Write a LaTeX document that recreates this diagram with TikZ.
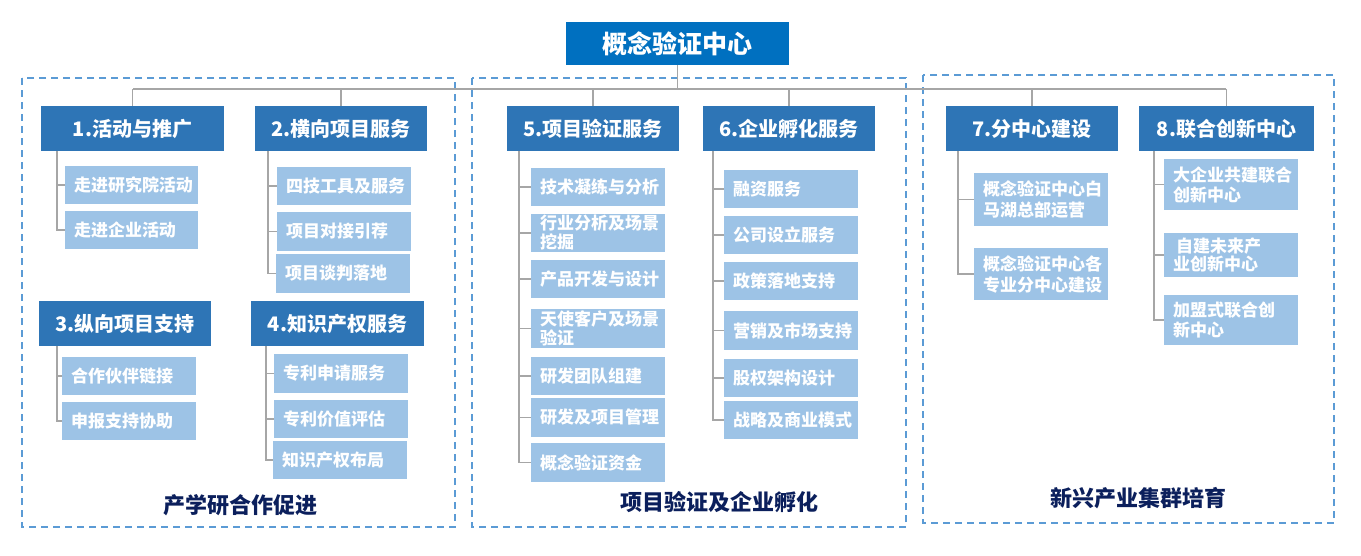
\documentclass[tikz,border=0pt]{standalone}
\usepackage{fontspec}
\setmainfont{Noto Sans CJK SC}
\definecolor{topblue}{HTML}{0070C0}
\definecolor{midblue}{HTML}{2E75B6}
\definecolor{lightblue}{HTML}{9DC3E6}
\definecolor{dashblue}{HTML}{5B9BD5}
\definecolor{linegray}{HTML}{A6A6A6}
\definecolor{navy}{HTML}{0B1F5C}
\newcommand\mybox[7]{\node[#2, minimum width={#5-#3}, minimum height={#6-#4}] (#1) at ({(#3+#5)/2},{(#4+#6)/2}) {#7};}
\newcommand\leaf[7][]{\pgfmathsetmacro\lw{#5-#3-18}\node[lbox, text width=\lw pt, minimum height={#6-#4}, #1] (#2) at ({(#3+#5)/2},{(#4+#6)/2}) {#7};}
\begin{document}
\begin{tikzpicture}[x=1pt,y=-1pt,
  topbox/.style={fill=topblue, text=white, font=\fontsize{25}{28}\selectfont\bfseries, inner sep=0pt},
  hbox/.style={fill=midblue, text=white, font=\fontsize{20}{22}\selectfont\bfseries, inner sep=0pt},
  lbox/.style={fill=lightblue, text=white, font=\fontsize{17}{19}\selectfont\bfseries, inner xsep=9pt, inner ysep=0pt, align=left},
  conn/.style={draw=linegray, line width=1.4pt},
  group/.style={draw=dashblue, line width=2pt, dash pattern=on 7pt off 5pt},
  grouplabel/.style={text=navy, font=\fontsize{22}{24}\selectfont\bfseries, inner sep=0pt}]
\useasboundingbox (0,0) rectangle (1361,555);

% groups
\draw[group] (22,78) rectangle (455,527);
\draw[group] (472,78) rectangle (906,527);
\draw[group] (923,75) rectangle (1334,523);

% top
\mybox{top}{topbox}{566}{22}{789}{65}{概念验证中心}

% level 2
\mybox{n1}{hbox}{41}{106}{224}{151}{1.活动与推广}
\mybox{n2}{hbox}{255}{106}{427}{151}{2.横向项目服务}
\mybox{n3}{hbox}{39}{301}{211}{346}{3.纵向项目支持}
\mybox{n4}{hbox}{251}{301}{424}{346}{4.知识产权服务}
\mybox{n5}{hbox}{507}{106}{679}{151}{5.项目验证服务}
\mybox{n6}{hbox}{703}{106}{875}{151}{6.企业孵化服务}
\mybox{n7}{hbox}{946}{106}{1118}{151}{7.分中心建设}
\mybox{n8}{hbox}{1139}{106}{1314}{151}{8.联合创新中心}

% bus
\coordinate (busL) at (133,89);
\coordinate (busR) at (1226,89);
\draw[conn] (busL) -- (busR);
\draw[conn] (top.south) -- (top.south |- busL);
\foreach \n in {n1,n2,n5,n6,n7,n8}{\draw[conn] (\n.north) -- (\n.north |- busL);}

% leaves group 1
\leaf{a1}{65}{166}{198}{204}{走进研究院活动}
\leaf{a2}{65}{211}{198}{249}{走进企业活动}
\leaf{b1}{277}{167}{411}{205}{四技工具及服务}
\leaf{b2}{277}{212}{411}{251}{项目对接引荐}
\leaf{b3}{276}{254}{410}{293}{项目谈判落地}
\leaf{c1}{62}{357}{196}{395}{合作伙伴链接}
\leaf{c2}{62}{402}{196}{440}{申报支持协助}
\leaf{d1}{274}{354}{408}{393}{专利申请服务}
\leaf{d2}{274}{400}{408}{438}{专利价值评估}
\leaf{d3}{273}{441}{407}{479}{知识产权布局}

% leaves group 2
\leaf{e1}{531}{168}{665}{206}{技术凝练与分析}
\leaf{e2}{531}{214}{665}{252}{行业分析及场景\\挖掘}
\leaf{e3}{531}{260}{665}{298}{产品开发与设计}
\leaf{e4}{531}{309}{665}{348}{天使客户及场景\\验证}
\leaf{e5}{531}{357}{665}{395}{研发团队组建}
\leaf{e6}{531}{398}{665}{437}{研发及项目管理}
\leaf{e7}{531}{443}{665}{482}{概念验证资金}
\leaf{f1}{724}{170}{858}{208}{融资服务}
\leaf{f2}{724}{216}{858}{254}{公司设立服务}
\leaf{f3}{724}{262}{858}{300}{政策落地支持}
\leaf{f4}{724}{311}{858}{350}{营销及市场支持}
\leaf{f5}{724}{359}{858}{397}{股权架构设计}
\leaf{f6}{724}{401}{858}{439}{战略及商业模式}

% leaves group 3
\leaf[font=\fontsize{17}{21}\selectfont\bfseries]{g1}{974}{173}{1108}{226}{概念验证中心白\\马湖总部运营}
\leaf[font=\fontsize{17}{21}\selectfont\bfseries]{g2}{974}{248}{1108}{300}{概念验证中心各\\专业分中心建设}
\leaf[font=\fontsize{17}{20}\selectfont\bfseries]{h1}{1164}{159}{1298}{210}{大企业共建联合\\创新中心}
\leaf[font=\fontsize{17}{18}\selectfont\bfseries]{h2}{1164}{233}{1298}{277}{\hspace*{3pt}自建未来产\\业创新中心}
\leaf[font=\fontsize{17}{20}\selectfont\bfseries]{h3}{1164}{295}{1298}{345}{加盟式联合创\\新中心}

% brackets
\coordinate (t1) at (57,151);
\coordinate (t2) at (268,151);
\coordinate (t3) at (57,346);
\coordinate (t4) at (266,346);
\coordinate (t5) at (519,151);
\coordinate (t6) at (713,151);
\coordinate (t7) at (958,151);
\coordinate (t8) at (1154,151);
\foreach \t/\l in {t1/a1,t1/a2,t2/b1,t2/b2,t2/b3,t3/c1,t3/c2,t4/d1,t4/d2,t4/d3,
  t5/e1,t5/e2,t5/e3,t5/e4,t5/e5,t5/e6,t5/e7,
  t7/g1,t7/g2,t8/h1,t8/h2,t8/h3}{\draw[conn] (\t) |- (\l.west);}
\foreach \l in {f1,f2,f3,f4,f5,f6}{\draw[conn] (t6) |- (\l.west);}
\draw[conn, line width=2pt] (t6) -- (t6 |- f6.west);

% group labels
\node[grouplabel] (lab1) at (240,505) {产学研合作促进};
\node[grouplabel] (lab2) at (719,502) {项目验证及企业孵化};
\node[grouplabel] (lab3) at (1138,498) {新兴产业集群培育};
\end{tikzpicture}
\end{document}
